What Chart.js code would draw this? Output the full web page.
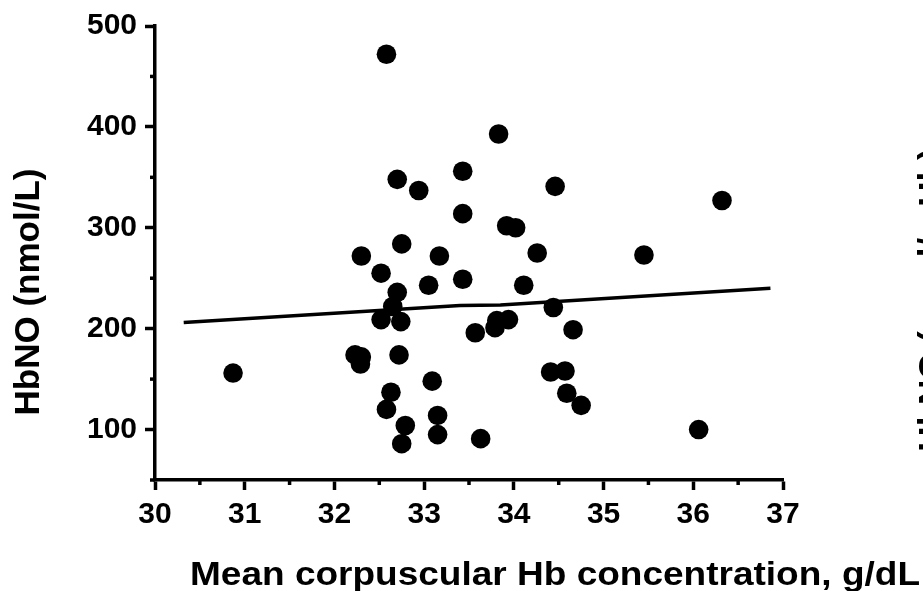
<!DOCTYPE html>
<html>
<head>
<meta charset="utf-8">
<script src="https://cdn.jsdelivr.net/npm/chart.js@4.4.1/dist/chart.umd.min.js"></script>
<style>
  html, body { margin: 0; padding: 0; background: #fff; }
  #wrap { width: 923px; height: 591px; }
</style>
</head>
<body>
<div id="wrap"><canvas id="grafico" width="923" height="591"></canvas></div>
<script>
// mean corpuscular Hb concentration (g/dL) vs HbNO (nmol/L)
const mchc = [
  32.58, 33.83, 32.70, 32.94, 33.43, 33.43, 32.75, 32.30, 33.17, 32.52,
  32.70, 33.05, 33.43, 32.65, 32.52, 32.74, 33.57, 33.79, 33.81, 33.94,
  34.44, 34.66, 34.41, 34.57, 34.59, 34.75, 36.06, 34.46, 36.32, 33.92,
  34.02, 34.26, 35.45, 34.11, 30.87, 32.23, 32.30, 32.29, 32.72, 33.09,
  32.63, 32.58, 32.79, 32.75, 33.15, 33.15, 33.63
]
const hbno = [
  472, 393, 348, 337, 356, 314, 284, 272, 272, 255,
  236, 243, 249, 222, 209, 207, 196, 201, 208, 209,
  221, 199, 157, 158, 136, 124, 100, 341, 327, 302,
  300, 275, 273, 243, 156, 174, 172, 165, 174, 148,
  137, 120, 104, 86, 114, 95, 91
]
// fitted line as drawn
const linhaX = [30.32, 33.40, 33.85, 36.86]
const linhaY = [206, 223, 223.5, 240]

const xTitulo = 'Mean corpuscular Hb concentration, g/dL'
const yTitulo = 'HbNO (nmol/L)'
const yTituloVizinho = 'HbNO (nmol/g Hb)'

const fonte = '"Liberation Sans", Arial, sans-serif'

const pontos = mchc.map((x, i) => ({ x: x, y: hbno[i] }))
const linha = linhaX.map((x, i) => ({ x: x, y: linhaY[i] }))

// short minor ticks + axis titles
const extras = {
  id: 'extras',
  afterDraw(chart) {
    const ctx = chart.ctx
    const sx = chart.scales.x
    const sy = chart.scales.y
    const area = chart.chartArea
    ctx.save()
    ctx.strokeStyle = '#000'
    ctx.lineWidth = 3.5
    sx.ticks.forEach(t => {
      if (!Number.isInteger(t.value)) {
        const px = sx.getPixelForValue(t.value)
        ctx.beginPath()
        ctx.moveTo(px, area.bottom)
        ctx.lineTo(px, area.bottom + 5)
        ctx.stroke()
      }
    })
    sy.ticks.forEach(t => {
      if (t.value % 100 !== 0) {
        const py = sy.getPixelForValue(t.value)
        ctx.beginPath()
        ctx.moveTo(area.left, py)
        ctx.lineTo(area.left - 5, py)
        ctx.stroke()
      }
    })

    ctx.fillStyle = '#000'
    ctx.font = 'bold 33px ' + fonte
    ctx.textBaseline = 'alphabetic'
    ctx.textAlign = 'left'
    const larg = ctx.measureText(xTitulo).width
    ctx.save()
    ctx.translate(190, 585)
    ctx.scale(730 / larg, 1)
    ctx.fillText(xTitulo, 0, 0)
    ctx.restore()

    ctx.font = 'bold 35px ' + fonte
    ctx.textAlign = 'center'
    ctx.textBaseline = 'middle'
    ctx.save()
    ctx.translate(29, 292)
    ctx.rotate(-Math.PI / 2)
    ctx.fillText(yTitulo, 0, 0)
    ctx.restore()

    ctx.textBaseline = 'alphabetic'
    ctx.save()
    ctx.translate(943, 300)
    ctx.rotate(-Math.PI / 2)
    ctx.fillText(yTituloVizinho, 0, 0)
    ctx.restore()
    ctx.restore()
  }
}

new Chart(document.getElementById('grafico'), {
  type: 'scatter',
  data: {
    datasets: [{
      data: pontos,
      backgroundColor: '#000',
      borderWidth: 0,
      pointRadius: 9.8,
      pointHoverRadius: 9.8
    }, {
      type: 'line',
      data: linha,
      borderColor: '#000',
      borderWidth: 3.5,
      pointRadius: 0,
      fill: false,
      tension: 0
    }]
  },
  options: {
    responsive: false,
    animation: false,
    events: [],
    layout: { padding: { top: 17, right: 140, left: 0, bottom: 0 } },
    plugins: { legend: { display: false }, tooltip: { enabled: false } },
    scales: {
      x: {
        type: 'linear',
        min: 30,
        max: 37,
        afterFit(scale) { scale.height = 111 },
        border: { display: true, color: '#000', width: 3.5 },
        grid: {
          drawOnChartArea: false,
          tickLength: 10,
          tickWidth: 3.5,
          tickColor: c => Number.isInteger(c.tick.value) ? '#000' : 'rgba(0,0,0,0)'
        },
        ticks: {
          stepSize: 0.5,
          autoSkip: false,
          maxRotation: 0,
          padding: 7,
          color: '#000',
          font: { family: fonte, size: 30, weight: 'bold' },
          callback: v => Number.isInteger(v) ? v : ''
        }
      },
      y: {
        type: 'linear',
        min: 50,
        max: 500,
        afterFit(scale) { scale.width = 155 },
        border: { display: true, color: '#000', width: 3.5 },
        grid: {
          drawOnChartArea: false,
          tickLength: 10,
          tickWidth: 3.5,
          tickColor: c => c.tick.value % 100 === 0 ? '#000' : 'rgba(0,0,0,0)'
        },
        ticks: {
          stepSize: 50,
          autoSkip: false,
          padding: 8,
          color: '#000',
          font: { family: fonte, size: 30, weight: 'bold' },
          callback: v => v % 100 === 0 ? v : ''
        }
      }
    }
  },
  plugins: [extras]
})
</script>
</body>
</html>
